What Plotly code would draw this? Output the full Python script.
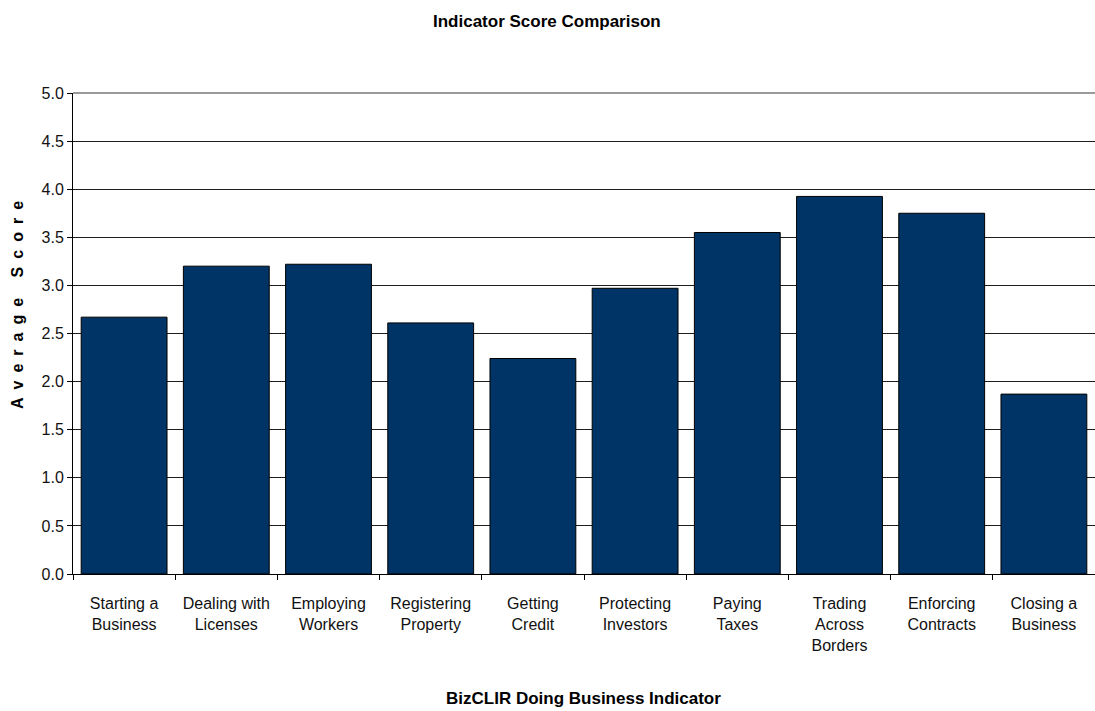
import plotly.graph_objects as go

categories = ["Starting a<br>Business", "Dealing with<br>Licenses", "Employing<br>Workers",
              "Registering<br>Property", "Getting<br>Credit", "Protecting<br>Investors",
              "Paying<br>Taxes", "Trading<br>Across<br>Borders", "Enforcing<br>Contracts",
              "Closing a<br>Business"]
scores = [2.67, 3.20, 3.22, 2.61, 2.24, 2.97, 3.55, 3.925, 3.75, 1.87]
y_ticks = [0.0, 0.5, 1.0, 1.5, 2.0, 2.5, 3.0, 3.5, 4.0, 4.5, 5.0]

title_text = "Indicator Score Comparison"
x_title = "BizCLIR Doing Business Indicator"
y_title = "Average Score"

FONT = "Liberation Sans, Arial, sans-serif"
W, H = 1095, 711
ml, mr, mt, mb = 73, 0, 93, 137

fig = go.Figure(go.Bar(
    x=categories, y=scores,
    marker=dict(color="#003366", line=dict(color="#000000", width=1)),
))

fig.update_layout(
    width=W, height=H,
    margin=dict(l=ml, r=mr, t=mt, b=mb, autoexpand=False),
    plot_bgcolor="white", paper_bgcolor="white",
    bargap=0.16,
    showlegend=False,
    font=dict(family=FONT, size=16, color="#111111"),
    xaxis=dict(
        type="category",
        showgrid=False,
        showline=True, linecolor="#000000", linewidth=1,
        ticks="outside", tickson="boundaries", ticklen=5, tickcolor="#000000",
        tickfont=dict(family=FONT, size=16, color="#111111"),
        ticklabelstandoff=15,
        fixedrange=True,
    ),
    yaxis=dict(
        range=[0, 5],
        tickvals=y_ticks,
        tickformat=".1f",
        showgrid=True, gridcolor="#1e1e1e", gridwidth=1,
        showline=True, linecolor="#000000", linewidth=1,
        ticks="outside", ticklen=5, tickcolor="#000000",
        tickfont=dict(family=FONT, size=16, color="#111111"),
        zeroline=False,
        fixedrange=True,
    ),
    shapes=[dict(type="line", xref="paper", yref="paper", x0=0, x1=1, y0=1, y1=1,
                 line=dict(color="#9a9a9a", width=2), layer="above")],
    annotations=[
        dict(text="<b>" + title_text + "</b>", xref="paper", yref="paper",
             x=(547 - ml) / (W - ml - mr), y=1 + (mt - 21) / (H - mt - mb),
             xanchor="center", yanchor="middle", showarrow=False,
             font=dict(family=FONT, size=17, color="#000000")),
        dict(text="<b>" + x_title + "</b>", xref="paper", yref="paper",
             x=(583 - ml) / (W - ml - mr), y=-(698 - (H - mb)) / (H - mt - mb),
             xanchor="center", yanchor="middle", showarrow=False,
             font=dict(family=FONT, size=17, color="#000000")),
        dict(text="<b>" + "\u2002".join(list(y_title)) + "</b>", xref="paper", yref="paper",
             x=-(ml - 17) / (W - ml - mr), y=(H - mb - 305) / (H - mt - mb),
             xanchor="center", yanchor="middle", showarrow=False, textangle=-90,
             font=dict(family=FONT, size=16, color="#000000")),
    ],
)

fig.write_html("out.html")
